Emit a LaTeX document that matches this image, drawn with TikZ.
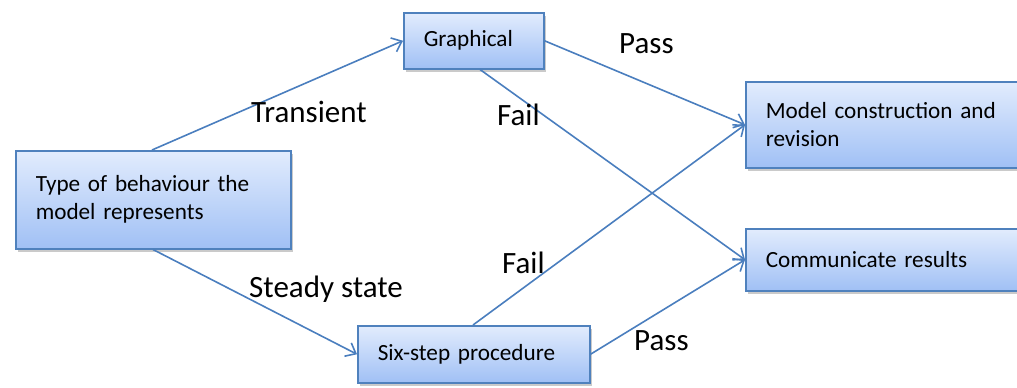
\documentclass[tikz,border=0pt]{standalone}
\usepackage{fontspec}
\setmainfont{Carlito}
\usetikzlibrary{arrows.meta,shadows}

\definecolor{boxline}{RGB}{79,129,189}
\definecolor{boxtop}{RGB}{226,236,253}
\definecolor{boxbot}{RGB}{160,192,245}
\definecolor{flowc}{RGB}{74,126,190}

\begin{document}
\begin{tikzpicture}[x=1pt,y=-1pt,
  stepbox/.style={draw=boxline, line width=1.5pt,
    top color=boxtop, bottom color=boxbot,
    drop shadow={shadow xshift=2pt, shadow yshift=-3pt, opacity=0.35, fill=black!60},
    anchor=north west, inner xsep=20pt, inner ysep=0pt,
    align=left, font=\fontsize{23.2}{28}\selectfont, text=black},
  flow/.style={draw=flowc, line width=1.6pt,
    -{Straight Barb[length=9pt,width=15pt,line width=1.6pt]}},
  lab/.style={anchor=base west, inner sep=0pt, font=\fontsize{31}{36}\selectfont}]

\useasboundingbox (0,0) rectangle (1017,388);

% process boxes
\node[stepbox, minimum width=275pt, minimum height=98pt, text width=235pt]
  (type) at (15,150) {Type of behaviour the\\model represents};
\node[stepbox, minimum width=140pt, minimum height=56pt, text width=100pt]
  (graph) at (403,12) {Graphical};
\node[stepbox, minimum width=232pt, minimum height=57pt, text width=192pt]
  (six) at (357,325) {Six-step procedure};
\node[stepbox, minimum width=285pt, minimum height=86pt, text width=245pt]
  (model) at (745,81) {Model construction and\\revision};
\node[stepbox, minimum width=285pt, minimum height=62pt, text width=245pt]
  (comm) at (745,228) {Communicate results};

% connectors
\draw[flow] ([xshift=137pt]type.north west) -- (graph.west);
\draw[flow] ([xshift=138pt]type.south west) -- (six.west);
\draw[flow] (graph.east) -- (model.west);
\draw[flow] ([xshift=77pt]graph.south west) -- (comm.west);
\draw[flow] ([xshift=116pt]six.north west) -- (model.west);
\draw[flow] (six.east) -- (comm.west);

% connector labels
\node[lab] (ltrans) at (251,122) {Transient};
\node[lab] (lsteady) at (249,297) {Steady state};
\node[lab] (lpass1) at (619,53) {Pass};
\node[lab] (lfail1) at (497,125) {Fail};
\node[lab] (lfail2) at (502,273) {Fail};
\node[lab] (lpass2) at (634,350) {Pass};
\end{tikzpicture}
\end{document}
